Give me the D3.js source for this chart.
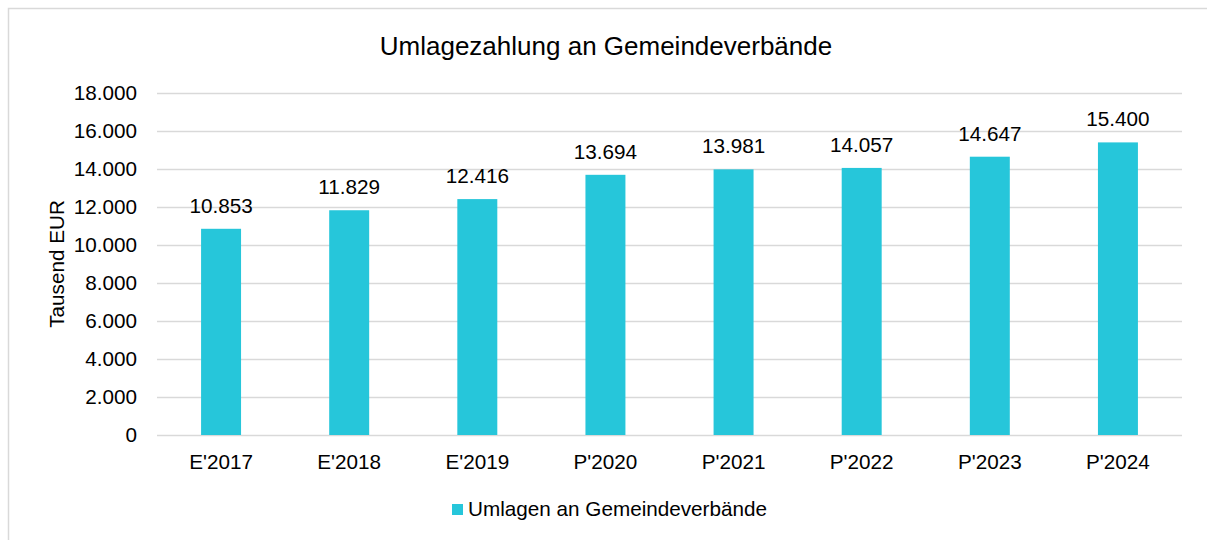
<!DOCTYPE html>
<html>
<head>
<meta charset="utf-8">
<script src="https://cdn.jsdelivr.net/npm/d3@7"></script>
<style>
    body { margin: 0; background: #fff; }
    svg { font-family: "Liberation Sans", Arial, sans-serif; }
</style>
</head>
<body>
<svg id="chart"></svg>
<script>
const categories = ["E'2017", "E'2018", "E'2019", "P'2020", "P'2021", "P'2022", "P'2023", "P'2024"];
const values = [10853, 11829, 12416, 13694, 13981, 14057, 14647, 15400];
const yTicks = [0, 2000, 4000, 6000, 8000, 10000, 12000, 14000, 16000, 18000];
const seriesName = 'Umlagen an Gemeindeverbände';
const chartTitle = 'Umlagezahlung an Gemeindeverbände';

const BAR_COLOUR = '#26C6DA';
const GRID_COLOUR = '#d9d9d9';
const TEXT_COLOUR = '#000';
const FONT_SIZE = 20.7;

const width = 1207, height = 540;
const plot = { left: 157, right: 1182, top: 93, bottom: 435 };

const fmt = d3.formatLocale({ decimal: ',', thousands: '.', grouping: [3], currency: ['', ' €'] }).format(',.0f');

const svg = d3.select('#chart').attr('width', width).attr('height', height);

// outer frame
svg.append('rect')
    .attr('x', 8.5).attr('y', 8.5)
    .attr('width', width + 10).attr('height', height + 10)
    .attr('fill', 'white').attr('stroke', GRID_COLOUR).attr('stroke-width', 1.5);

const x = d3.scaleBand().domain(categories).range([plot.left, plot.right]).paddingInner(0.688).paddingOuter(0.344);
const y = d3.scaleLinear().domain([0, 18000]).range([plot.bottom, plot.top]);

// gridlines + y labels
const yAxis = d3.axisLeft(y).tickValues(yTicks).tickSize(-(plot.right - plot.left)).tickPadding(20).tickFormat(fmt);
const gy = svg.append('g').attr('transform', 'translate(' + plot.left + ',0)').call(yAxis);
gy.select('.domain').remove();
gy.selectAll('line').attr('stroke', GRID_COLOUR).attr('stroke-width', 1.5);
gy.selectAll('text').attr('font-size', FONT_SIZE).attr('fill', TEXT_COLOUR).attr('font-family', 'Liberation Sans, Arial, sans-serif');

// bars
svg.append('g').selectAll('rect')
    .data(values)
    .join('rect')
    .attr('x', (d, i) => x(categories[i]))
    .attr('y', d => y(d))
    .attr('width', x.bandwidth())
    .attr('height', d => y(0) - y(d))
    .attr('fill', BAR_COLOUR);

// value labels
svg.append('g').selectAll('text')
    .data(values)
    .join('text')
    .attr('x', (d, i) => x(categories[i]) + x.bandwidth() / 2)
    .attr('y', d => y(d) - 16)
    .attr('text-anchor', 'middle')
    .attr('font-size', FONT_SIZE)
    .attr('fill', TEXT_COLOUR)
    .text(d => fmt(d));

// x axis labels
const xAxis = d3.axisBottom(x).tickSize(0).tickPadding(19);
const gx = svg.append('g').attr('transform', 'translate(0,' + plot.bottom + ')').call(xAxis);
gx.select('.domain').remove();
gx.selectAll('text').attr('font-size', FONT_SIZE).attr('fill', TEXT_COLOUR).attr('font-family', 'Liberation Sans, Arial, sans-serif');

// title
svg.append('text')
    .attr('x', 606)
    .attr('y', 55)
    .attr('text-anchor', 'middle')
    .attr('font-size', 26)
    .attr('fill', TEXT_COLOUR)
    .text(chartTitle);

// y axis title
svg.append('text')
    .attr('transform', 'translate(64,' + ((plot.top + plot.bottom) / 2) + ') rotate(-90)')
    .attr('text-anchor', 'middle')
    .attr('font-size', FONT_SIZE)
    .attr('fill', TEXT_COLOUR)
    .text('Tausend EUR');

// legend
const lg = svg.append('g').attr('transform', 'translate(452,504)');
lg.append('rect').attr('width', 11).attr('height', 11).attr('fill', BAR_COLOUR);
lg.append('text').attr('x', 16).attr('y', 12).attr('font-size', FONT_SIZE).attr('fill', TEXT_COLOUR).text(seriesName);
</script>
</body>
</html>
